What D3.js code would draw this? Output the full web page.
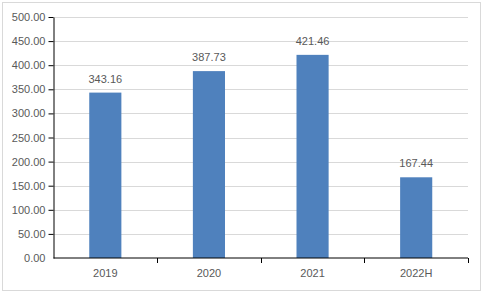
<!DOCTYPE html>
<html>
  <head>
    <meta charset="utf-8">
    <title></title>
    <style>
      body { margin: 0; background: #fff; }
      text { font-family: "Liberation Sans", Arial, sans-serif; font-size: 11px; fill: #595959; }
    </style>
  </head>
  <body>
    <div id="chart"></div>
    <script src="https://d3js.org/d3.v7.min.js"></script>
    <script>
      const categories = ['2019', '2020', '2021', '2022H'];
      const values = [343.16, 387.73, 421.46, 167.44];
      const yTicks = [0, 50, 100, 150, 200, 250, 300, 350, 400, 450, 500];

      const width = 485;
      const height = 294;
      const margin = { top: 17, right: 17, bottom: 36, left: 53.5 };

      const svg = d3.select('#chart')
                    .append('svg')
                    .attr('width', width)
                    .attr('height', height)

      // outer frame
      svg.append('rect')
        .attr('x', 2.5).attr('y', 2.5)
        .attr('width', 478).attr('height', 288)
        .attr('fill', '#fff')
        .attr('stroke', '#d9d9d9')

      const x = d3.scaleBand()
        .domain(categories)
        .range([margin.left, width - margin.right])
        .paddingInner(0.69)
        .paddingOuter(0.345)

      const y = d3.scaleLinear()
        .domain([0, 500])
        .range([height - margin.bottom, margin.top])

      // gridlines
      svg.append('g')
        .selectAll('line')
        .data(yTicks.slice(1))
        .enter()
        .append('line')
        .attr('x1', margin.left)
        .attr('x2', width - margin.right)
        .attr('y1', d => Math.round(y(d)) + 0.5)
        .attr('y2', d => Math.round(y(d)) + 0.5)
        .attr('stroke', '#d9d9d9')

      // bars
      svg.append('g')
        .selectAll('rect')
        .data(values)
        .enter()
        .append('rect')
        .attr('x', (d, i) => x(categories[i]))
        .attr('width', x.bandwidth())
        .attr('y', d => y(d))
        .attr('height', d => y(0) - y(d))
        .attr('fill', '#4f81bd')

      // value labels
      svg.append('g')
        .selectAll('text')
        .data(values)
        .enter()
        .append('text')
        .attr('x', (d, i) => x(categories[i]) + x.bandwidth() / 2)
        .attr('y', d => y(d) - 10)
        .attr('text-anchor', 'middle')
        .text(d => d.toFixed(2))

      // y axis
      const yAxis = d3.axisLeft(y)
        .tickValues(yTicks)
        .tickSize(5)
        .tickPadding(3)
        .tickSizeOuter(0)
        .tickFormat(d => d.toFixed(2))

      const gy = svg.append('g')
        .attr('transform', `translate(${margin.left},0)`)
        .call(yAxis)
      gy.select('.domain').attr('stroke', '#000')
      gy.selectAll('.tick line').attr('stroke', d => d === 0 ? 'none' : '#000')
      gy.selectAll('.tick text').attr('fill', '#595959').style('font-size', '11px').style('font-family', '"Liberation Sans", Arial, sans-serif')

      // x axis line + ticks at band boundaries (not at the left corner)
      const xBase = y(0);
      svg.append('line')
        .attr('x1', margin.left).attr('x2', width - margin.right)
        .attr('y1', xBase).attr('y2', xBase)
        .attr('stroke', '#000')

      const bounds = d3.range(1, categories.length + 1).map(i => margin.left + i * (width - margin.left - margin.right) / categories.length)
      svg.append('g')
        .selectAll('line')
        .data(bounds)
        .enter()
        .append('line')
        .attr('x1', d => Math.round(d) + 0.5)
        .attr('x2', d => Math.round(d) + 0.5)
        .attr('y1', xBase)
        .attr('y2', xBase + 5)
        .attr('stroke', '#000')

      svg.append('g')
        .selectAll('text')
        .data(categories)
        .enter()
        .append('text')
        .attr('x', d => x(d) + x.bandwidth() / 2)
        .attr('y', xBase + 19)
        .attr('text-anchor', 'middle')
        .text(d => d)
    </script>
  </body>
</html>
